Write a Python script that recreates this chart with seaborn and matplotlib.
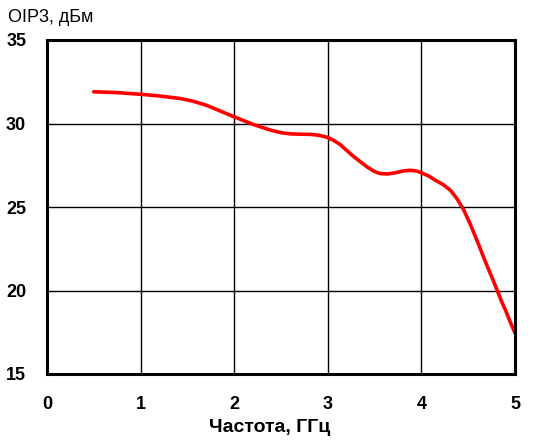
import matplotlib
matplotlib.use("Agg")
import matplotlib.pyplot as plt
import seaborn as sns
import pandas as pd

# OIP3 vs frequency
freq_ghz = [0.5, 0.75, 1.0, 1.2, 1.42, 1.55, 1.7, 1.85, 2.0, 2.2, 2.39, 2.5, 2.6,
            2.7, 2.81, 2.9, 2.99, 3.06, 3.13, 3.2, 3.27, 3.35, 3.42, 3.5, 3.56,
            3.64, 3.72, 3.8, 3.88, 3.95, 4.0, 4.08, 4.15, 4.23, 4.31, 4.38, 4.45,
            4.52, 4.59, 4.65, 4.7, 4.76, 4.81, 4.86, 4.9, 4.95, 5.0]
oip3_dbm = [31.9, 31.85, 31.75, 31.65, 31.5, 31.35, 31.1, 30.75, 30.4, 29.95, 29.6, 29.45, 29.38,
            29.36, 29.35, 29.3, 29.18, 29.0, 28.75, 28.4, 28.05, 27.7, 27.4, 27.12, 27.0,
            26.98, 27.05, 27.15, 27.2, 27.15, 27.05, 26.85, 26.6, 26.35, 26.0, 25.5, 24.85,
            24.0, 23.05, 22.2, 21.5, 20.7, 20.0, 19.3, 18.8, 18.1, 17.45]

x_ticks = [0, 1, 2, 3, 4, 5]
y_ticks = [15, 20, 25, 30, 35]

df = pd.DataFrame({"freq": freq_ghz, "oip3": oip3_dbm})

sns.set_style("white")
plt.rcParams["font.family"] = ["Liberation Sans", "DejaVu Sans"]
plt.rcParams["text.color"] = "black"
plt.rcParams["xtick.color"] = "black"
plt.rcParams["ytick.color"] = "black"
plt.rcParams["axes.labelcolor"] = "black"

fig = plt.figure(figsize=(5.4, 4.43), dpi=100)
ax = fig.add_axes([47 / 540, 1 - 374 / 443, (515 - 47) / 540, (374 - 40) / 443])

sns.lineplot(data=df, x="freq", y="oip3", color="#ff0000", linewidth=2.6, ax=ax)

ax.set_xlim(0, 5)
ax.set_ylim(15, 35)
ax.set_xticks(x_ticks)
ax.set_yticks(y_ticks)
ax.grid(True, color="black", linewidth=1.0)
for s in ax.spines.values():
    s.set_visible(True)
    s.set_color("black")
    s.set_linewidth(2.2)
ax.tick_params(axis="x", direction="out", length=7, width=1, labelsize=13, pad=9)
ax.tick_params(axis="y", direction="out", length=7, width=1, labelsize=13, pad=8)
for lbl in ax.get_xticklabels() + ax.get_yticklabels():
    lbl.set_fontweight("bold")

ax.set_xlabel("Частота, ГГц", fontsize=14, fontweight="bold")
ax.xaxis.set_label_coords((270 - 47) / 468, -(427 - 374) / 334)
ax.xaxis.label.set_va("center")
ax.set_ylabel("")
fig.text(8 / 540, 1 - 18 / 443, "OIP3, дБм", fontsize=13, va="center", ha="left")

fig.savefig("out.png", dpi=100)
plt.close(fig)
